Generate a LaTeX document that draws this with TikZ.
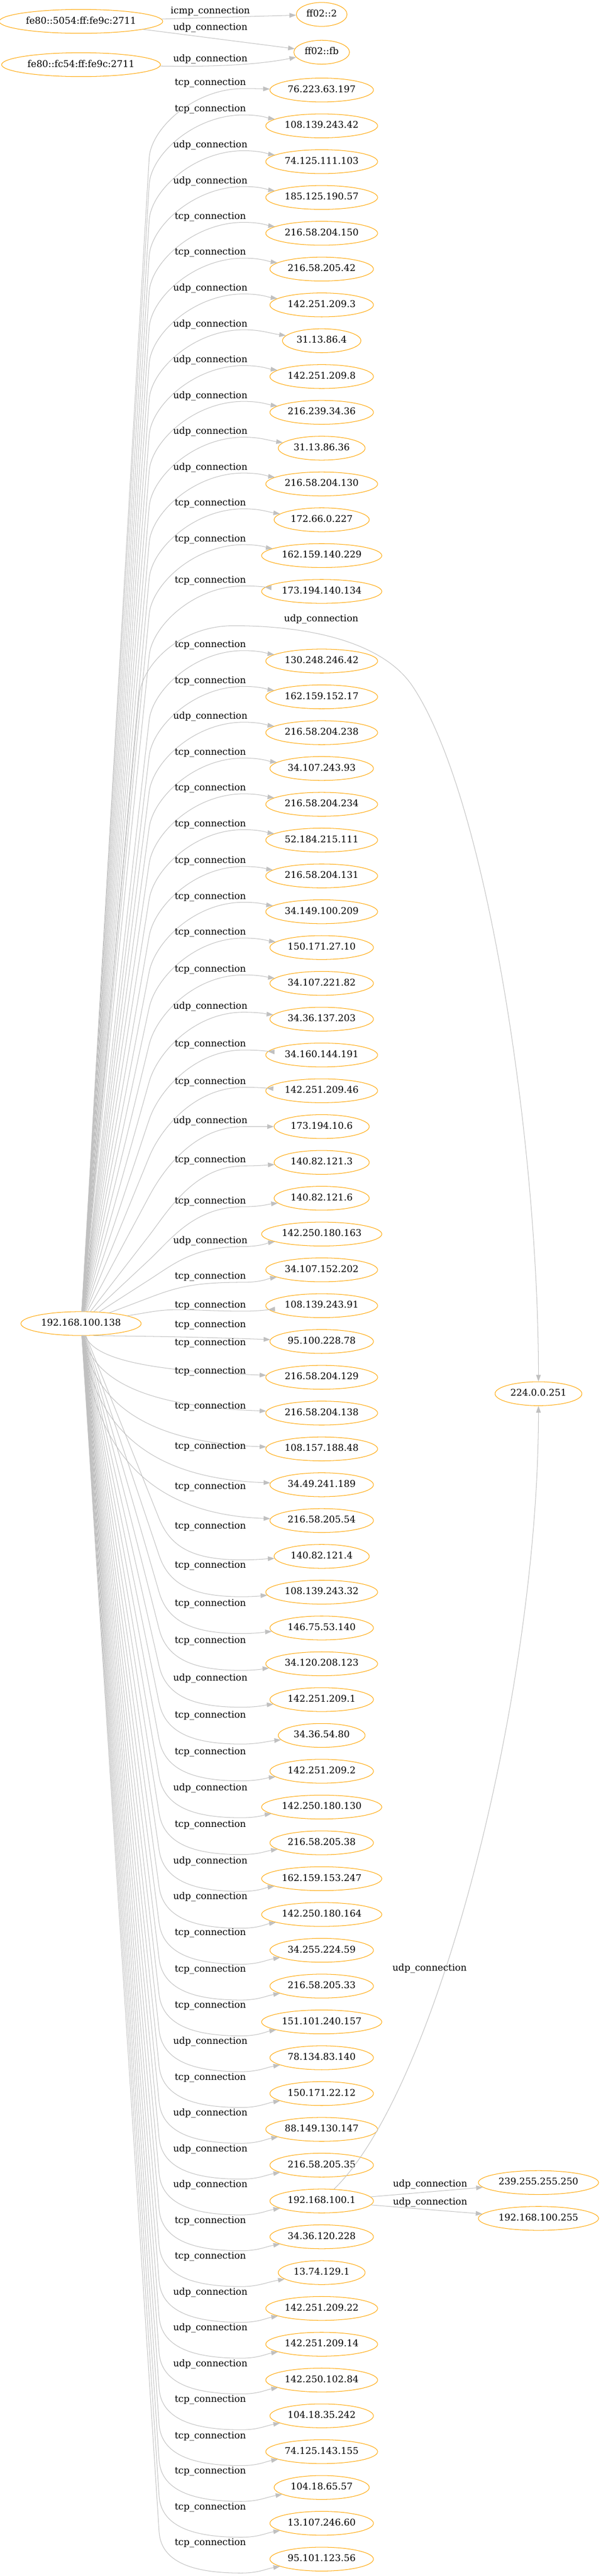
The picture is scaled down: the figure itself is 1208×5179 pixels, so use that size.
\documentclass[tikz,border=0pt]{standalone}
\usepackage{fontspec}
\setmainfont{DejaVu Serif}
\usetikzlibrary{shapes.geometric,arrows.meta}

\definecolor{linkgray}{HTML}{C0C0C0}
\definecolor{hostorange}{HTML}{FFA500}

% Routes from 192.168.100.138 (src) to a destination D-#1 lying at y=\rtY
\newcommand{\uproute}[2]{%
  \pgfmathsetmacro\rtW{#2+11}%
  \pgfmathsetmacro\rtB{\rtW+min(140,0.5*(2640-\rtW))}%
  \pgfmathsetmacro\rtL{100*veclen(1.37,(\rtB-2661)/100)}%
  \pgfmathsetmacro\rtCx{300+60*(137/\rtL)}%
  \pgfmathsetmacro\rtCy{\rtB+60*((\rtB-2661)/\rtL)}%
  \pgfmathsetmacro\rtE{\rtW+0.3*(\rtY-\rtW)}%
  \draw[link] (src) -- (300,\rtB) .. controls (\rtCx,\rtCy) and (390,\rtW) .. (490,\rtW) .. controls (525,\rtW) and (540,\rtE) .. (D-#1);%
}
\newcommand{\nearroute}[1]{%
  \pgfmathsetmacro\rtCy{2661+0.7*(\rtY-2661)}%
  \pgfmathsetmacro\rtE{\rtY-12}%
  \draw[link] (src) .. controls (190,\rtCy) and (320,\rtE) .. (D-#1);%
}
\newcommand{\downroute}[1]{%
  \pgfmathsetmacro\rtW{\rtY+28-21*max(0,(1200-(\rtY-2661))/732)}%
  \pgfmathsetmacro\rtB{\rtW-83}%
  \pgfmathsetmacro\rtL{100*veclen(1.57,(\rtB-2661)/100)}%
  \pgfmathsetmacro\rtCx{320+60*(157/\rtL)}%
  \pgfmathsetmacro\rtCy{\rtB+60*((\rtB-2661)/\rtL)}%
  \pgfmathsetmacro\rtE{\rtW+0.3*(\rtY-\rtW)}%
  \draw[link] (src) -- (320,\rtB) .. controls (\rtCx,\rtCy) and (385,\rtW) .. (485,\rtW) .. controls (520,\rtW) and (535,\rtE) .. (D-#1);%
}

\begin{document}
\begin{tikzpicture}[
    x=0.75pt, y=-0.75pt,
    font=\fontsize{14pt}{16pt}\selectfont,
    host/.style={ellipse, draw=hostorange, line width=0.8pt, inner xsep=4pt, inner ysep=6pt,
                 text height=10pt, text depth=3pt, minimum height=36pt},
    conn/.style={inner sep=0pt},
    link/.style={draw=linkgray, line width=0.8pt, -{Triangle[length=10pt,width=7pt]}}
]
    \useasboundingbox (0,0) rectangle (1208,5179);

    % Draw the source hosts
    \node[host] (fe-1) at (163,43) {fe80::5054:ff:fe9c:2711};
    \node[host] (fe-2) at (163,130) {fe80::fc54:ff:fe9c:2711};
    \node[host] (src) at (163,2661) {192.168.100.138};

    % Draw the multicast hosts
    \node[host] (ff-1) at (647,29) {ff02::2};
    \node[host] (ff-2) at (647,105) {ff02::fb};
    \node[host] (mc-1) at (1083,2802) {224.0.0.251};
    \node[host] (mc-2) at (1083,4388) {239.255.255.250};
    \node[host] (mc-3) at (1083,4460) {192.168.100.255};

    % Connect the link-local hosts
    \draw[link] (fe-1) -- (ff-1);
    \draw[link] (fe-1) -- (ff-2);
    \draw[link] (fe-2) .. controls (450,135) and (530,128) .. (ff-2);
    \node[conn] at (423,23) {icmp\_connection};
    \node[conn] at (423,56) {udp\_connection};
    \node[conn] at (423,119) {udp\_connection};

    % Draw the destinations of 192.168.100.138 and connect them
    \foreach \i/\ip/\proto/\ly in {
        3/76.223.63.197/tcp/167, 4/108.139.243.42/tcp/220, 5/74.125.111.103/udp/292,
        6/185.125.190.57/udp/364, 7/216.58.204.150/tcp/436, 8/216.58.205.42/tcp/508,
        9/142.251.209.3/udp/580, 10/31.13.86.4/udp/652, 11/142.251.209.8/udp/724,
        12/216.239.34.36/udp/796, 13/31.13.86.36/udp/868, 14/216.58.204.130/udp/940,
        15/172.66.0.227/tcp/1012, 16/162.159.140.229/tcp/1084, 17/173.194.140.134/tcp/1167,
        18/130.248.246.42/tcp/1297, 19/162.159.152.17/tcp/1369, 20/216.58.204.238/udp/1441,
        21/34.107.243.93/tcp/1513, 22/216.58.204.234/tcp/1585, 23/52.184.215.111/tcp/1657,
        24/216.58.204.131/tcp/1731, 25/34.149.100.209/tcp/1803, 26/150.171.27.10/tcp/1875,
        27/34.107.221.82/tcp/1949, 28/34.36.137.203/udp/2024, 29/34.160.144.191/tcp/2100,
        30/142.251.209.46/tcp/2175, 31/173.194.10.6/udp/2254, 32/140.82.121.3/tcp/2333,
        33/140.82.121.6/tcp/2415, 34/142.250.180.163/udp/2495, 35/34.107.152.202/tcp/2567,
        36/108.139.243.91/tcp/2625, 37/95.100.228.78/tcp/2664, 38/216.58.204.129/tcp/2700,
        39/216.58.204.138/tcp/2757, 40/108.157.188.48/tcp/2828, 41/34.49.241.189/tcp/2908,
        42/216.58.205.54/tcp/2989, 43/140.82.121.4/tcp/3069, 44/108.139.243.32/tcp/3148,
        45/146.75.53.140/tcp/3224, 46/34.120.208.123/tcp/3299, 47/142.251.209.1/udp/3374,
        48/34.36.54.80/tcp/3449, 49/142.251.209.2/tcp/3523, 50/142.250.180.130/udp/3595,
        51/216.58.205.38/tcp/3669, 52/162.159.153.247/udp/3742, 53/142.250.180.164/udp/3814,
        54/34.255.224.59/tcp/3886, 55/216.58.205.33/tcp/3960, 56/151.101.240.157/tcp/4032,
        57/78.134.83.140/udp/4105, 58/150.171.22.12/tcp/4177, 59/88.149.130.147/udp/4249,
        60/216.58.205.35/udp/4321, 61/192.168.100.1/udp/4393, 62/34.36.120.228/tcp/4465,
        63/13.74.129.1/tcp/4537, 64/142.251.209.22/udp/4609, 65/142.251.209.14/udp/4681,
        66/142.250.102.84/udp/4753, 67/104.18.35.242/tcp/4825, 68/74.125.143.155/tcp/4898,
        69/104.18.65.57/tcp/4969, 70/13.107.246.60/tcp/5041, 71/95.101.123.56/tcp/5113} {
        \pgfmathsetmacro\rtY{181+(\i-3)*72+(\i>17)*68}
        \node[host] (D-\i) at (647,\rtY) {\ip};
        \node[conn] (E-\i) at (423,\ly) {\proto\_connection};
        \ifnum\i<37 \uproute{\i}{\ly}\else\ifnum\i<43 \nearroute{\i}\else \downroute{\i}\fi\fi
    }

    % Connect 192.168.100.138 with the mDNS group
    \draw[link] (src) -- (280,1398) .. controls (285.5,1338) and (360,1258) .. (470,1258)
        .. controls (620,1258) and (770,1290) .. (830,1380)
        .. controls (980,1605) and (1083,2300) .. (mc-1);
    \node[conn] at (646,1245) {udp\_connection};

    % Connect the gateway with the multicast hosts
    \draw[link] (D-61) .. controls (880,4200) and (1083,3400) .. (mc-1);
    \draw[link] (D-61) -- (mc-2);
    \draw[link] (D-61) -- (mc-3);
    \node[conn] at (864,3958) {udp\_connection};
    \node[conn] at (865,4391) {udp\_connection};
    \node[conn] at (865,4428) {udp\_connection};
\end{tikzpicture}
\end{document}
